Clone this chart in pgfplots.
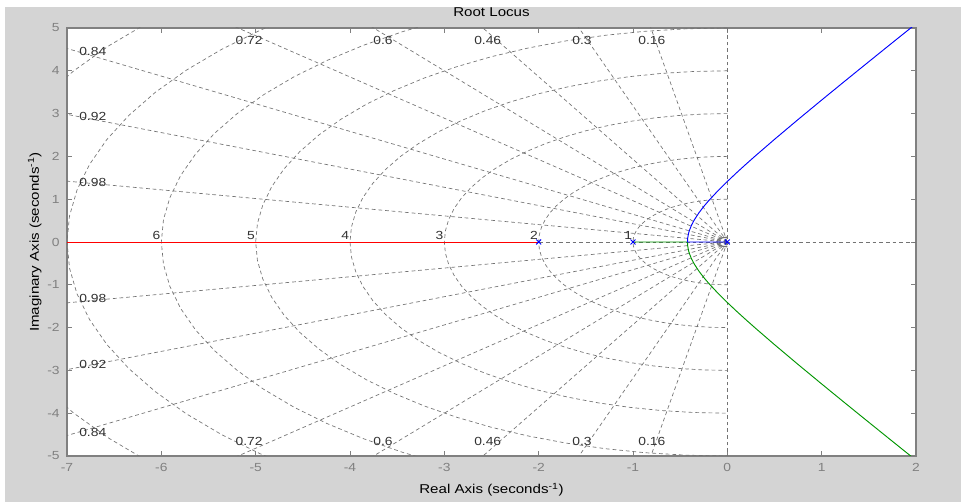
\documentclass[border=0pt]{standalone}
\usepackage{pgfplots}
\pgfplotsset{compat=1.18}
\usepackage{pgfplotstable}
\usepackage{fontspec}
\setmainfont{Liberation Sans}[FakeStretch=1.18]
\definecolor{figgray}{RGB}{212,212,212}
\definecolor{axgray}{RGB}{128,128,128}
\definecolor{gridgray}{RGB}{115,115,115}
\definecolor{lblgray}{RGB}{50,50,50}
\definecolor{locgreen}{RGB}{0,150,0}
\tikzset{
  grgrid/.style={gridgray, line width=0.5pt, dash pattern=on 2.8pt off 2.2pt},
  lbl/.style={font=\fontsize{8.8}{10}\selectfont, text=lblgray, inner sep=0.5pt},
}
\pgfplotstableread{
c s
0 1
-0.0872 0.9962
-0.1736 0.9848
-0.2588 0.9659
-0.3420 0.9397
-0.4226 0.9063
-0.5 0.8660
-0.5736 0.8192
-0.6428 0.7660
-0.7071 0.7071
-0.7660 0.6428
-0.8192 0.5736
-0.8660 0.5
-0.9063 0.4226
-0.9397 0.3420
-0.9659 0.2588
-0.9848 0.1736
-0.9962 0.0872
-1 0
-0.9962 -0.0872
-0.9848 -0.1736
-0.9659 -0.2588
-0.9397 -0.3420
-0.9063 -0.4226
-0.8660 -0.5
-0.8192 -0.5736
-0.7660 -0.6428
-0.7071 -0.7071
-0.6428 -0.7660
-0.5736 -0.8192
-0.5 -0.8660
-0.4226 -0.9063
-0.3420 -0.9397
-0.2588 -0.9659
-0.1736 -0.9848
-0.0872 -0.9962
0 -1
}\semicircle
\begin{document}
\begin{tikzpicture}
\path[use as bounding box] (0,0) rectangle (720.75pt,376.5pt);
\fill[white] (0,0) rectangle (720.75pt,376.5pt);
\fill[figgray] (3.75pt,0) rectangle (720.75pt,371.25pt);
\begin{axis}[
  at={(50.25pt,34.5pt)}, anchor=south west,
  width=636.75pt, height=321pt, scale only axis,
  xmin=-7, xmax=2, ymin=-5, ymax=5,
  xtick={-7,-6,...,2}, ytick={-5,-4,...,5},
  axis background/.style={fill=white},
  axis line style={axgray, line width=0.8pt},
  tick style={axgray, line width=0.6pt},
  major tick length=3.75pt,
  tick align=inside,
  /pgf/number format/assume math mode=true,
  ticklabel style={font=\fontsize{8.8}{10}\selectfont, text=axgray},
  xticklabel style={yshift=-2pt},
  yticklabel style={xshift=-2pt},
  title={Root Locus},
  every axis title/.style={font=\fontsize{9.6}{11}\selectfont, at={(axis description cs:0.5,1.037)}, anchor=center},
  xlabel={Real Axis (seconds\textsuperscript{-1})},
  ylabel={Imaginary Axis (seconds\textsuperscript{-1})},
  xlabel style={font=\fontsize{9.6}{11}\selectfont, at={(axis description cs:0.5,-0.079)}, anchor=center},
  ylabel style={font=\fontsize{9.6}{11}\selectfont, at={(axis description cs:-0.038,0.5)}, anchor=center},
]
% natural frequency semicircles
\foreach \r in {1,2,3,4,5,6,7,8} {
  \addplot[grgrid] table[x expr=\thisrow{c}*\r, y expr=\thisrow{s}*\r] {\semicircle};
}
\addplot[gridgray, line width=0.9pt] table[x expr=\thisrow{c}*0.11, y expr=\thisrow{s}*0.11] {\semicircle};
% damping lines
\addplot[grgrid] coordinates {(0,0) (-1.6,9.871)};
\addplot[grgrid] coordinates {(0,0) (-1.6,-9.871)};
\addplot[grgrid] coordinates {(0,0) (-3,9.539)};
\addplot[grgrid] coordinates {(0,0) (-3,-9.539)};
\addplot[grgrid] coordinates {(0,0) (-4.6,8.879)};
\addplot[grgrid] coordinates {(0,0) (-4.6,-8.879)};
\addplot[grgrid] coordinates {(0,0) (-6,8)};
\addplot[grgrid] coordinates {(0,0) (-6,-8)};
\addplot[grgrid] coordinates {(0,0) (-7.2,6.940)};
\addplot[grgrid] coordinates {(0,0) (-7.2,-6.940)};
\addplot[grgrid] coordinates {(0,0) (-8.4,5.426)};
\addplot[grgrid] coordinates {(0,0) (-8.4,-5.426)};
\addplot[grgrid] coordinates {(0,0) (-9.2,3.919)};
\addplot[grgrid] coordinates {(0,0) (-9.2,-3.919)};
\addplot[grgrid] coordinates {(0,0) (-9.8,1.990)};
\addplot[grgrid] coordinates {(0,0) (-9.8,-1.990)};
% axes lines of the s-grid
\addplot[grgrid] coordinates {(-8,0) (3,0)};
\addplot[grgrid] coordinates {(0,-6) (0,6)};
% damping labels
\node[lbl] at (axis cs:-5.07,4.72) {0.72};
\node[lbl] at (axis cs:-3.65,4.72) {0.6};
\node[lbl] at (axis cs:-2.54,4.72) {0.46};
\node[lbl] at (axis cs:-1.54,4.72) {0.3};
\node[lbl] at (axis cs:-0.80,4.72) {0.16};
\node[lbl] at (axis cs:-5.07,-4.67) {0.72};
\node[lbl] at (axis cs:-3.65,-4.67) {0.6};
\node[lbl] at (axis cs:-2.54,-4.67) {0.46};
\node[lbl] at (axis cs:-1.54,-4.67) {0.3};
\node[lbl] at (axis cs:-0.80,-4.67) {0.16};
\node[lbl, anchor=west] at (axis cs:-6.88,4.44) {0.84};
\node[lbl, anchor=west] at (axis cs:-6.88,2.94) {0.92};
\node[lbl, anchor=west] at (axis cs:-6.88,1.38) {0.98};
\node[lbl, anchor=west] at (axis cs:-6.88,-1.33) {0.98};
\node[lbl, anchor=west] at (axis cs:-6.88,-2.85) {0.92};
\node[lbl, anchor=west] at (axis cs:-6.88,-4.44) {0.84};
% natural frequency labels
\node[lbl, anchor=south east] at (axis cs:-6,0.03) {6};
\node[lbl, anchor=south east] at (axis cs:-5,0.03) {5};
\node[lbl, anchor=south east] at (axis cs:-4,0.03) {4};
\node[lbl, anchor=south east] at (axis cs:-3,0.03) {3};
\node[lbl, anchor=south east] at (axis cs:-2,0.03) {2};
\node[lbl, anchor=south east] at (axis cs:-1,0.03) {1};
% root locus branches
\addplot[red, line width=0.7pt] coordinates {(-2,0) (-7.5,0)};
\addplot[locgreen, line width=0.7pt] coordinates {
(-1,0) (-0.4226,0) (-0.42,-0.0959) (-0.41,-0.2105) (-0.40,-0.2828) (-0.38,-0.3914)
(-0.35,-0.5172) (-0.3,-0.6856) (-0.25,-0.8292) (-0.2,-0.9592) (-0.1,-1.1958)
(0,-1.4142) (0.1,-1.6217) (0.2,-1.8221) (0.3,-2.0174) (0.5,-2.3979) (0.75,-2.8614)
(1.0,-3.3166) (1.25,-3.7666) (1.5,-4.2131) (1.75,-4.6570) (1.944,-5.0002) (2.0,-5.099)};
\addplot[blue, line width=0.7pt] coordinates {
(0,0) (-0.4226,0) (-0.42,0.0959) (-0.41,0.2105) (-0.40,0.2828) (-0.38,0.3914)
(-0.35,0.5172) (-0.3,0.6856) (-0.25,0.8292) (-0.2,0.9592) (-0.1,1.1958)
(0,1.4142) (0.1,1.6217) (0.2,1.8221) (0.3,2.0174) (0.5,2.3979) (0.75,2.8614)
(1.0,3.3166) (1.25,3.7666) (1.5,4.2131) (1.75,4.6570) (1.944,5.0002) (2.0,5.099)};
% poles
\addplot[only marks, mark=x, mark size=2.6pt, blue, mark options={line width=0.7pt}] coordinates {(0,0) (-1,0) (-2,0)};
\end{axis}
\end{tikzpicture}
\end{document}
